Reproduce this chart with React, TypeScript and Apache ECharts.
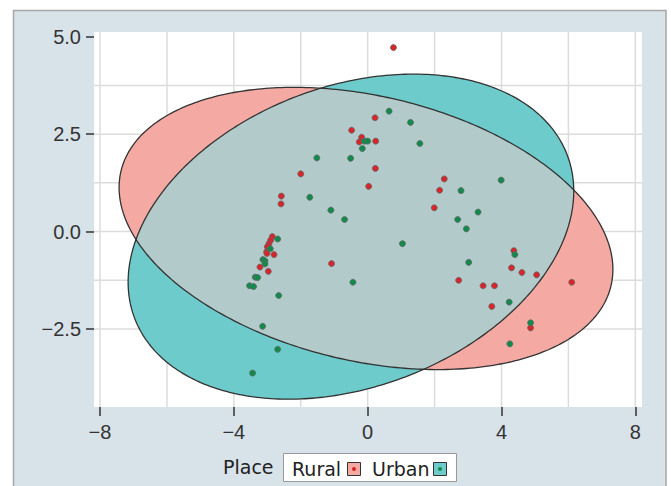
import React, { useEffect, useRef } from "react";
import * as echarts from "echarts";

// ---- data ----
const xTicks = [-8, -4, 0, 4, 8];
const yTicks = [-2.5, 0, 2.5, 5];
const xGridValues = [-8, -6, -4, -2, 0, 2, 4, 6, 8];
const yGridValues = [-2.5, -1.25, 0, 1.25, 2.5, 3.75];
const xRange = [-8.18, 8.2];
const yRange = [-4.5, 5.12];

// ellipse params: [cx, cy, a (x half-extent), b (y half-extent), phase]
const ruralEllipse = [-0.05, 0.08, 7.38, 3.62, 1.865];
const urbanEllipse = [-0.5, -0.13, 6.66, 4.17, 1.287];

const ruralPoints: number[][] = [
  [0.77, 4.72], [0.22, 2.92], [-0.48, 2.6], [-0.18, 2.42], [-0.25, 2.3],
  [0.24, 2.32], [0.23, 1.62], [-2.0, 1.48], [0.03, 1.16], [-2.58, 0.91],
  [-2.59, 0.71], [-2.85, -0.13], [-2.9, -0.22], [-2.95, -0.31], [-3.0, -0.39],
  [-3.02, -0.52], [-3.01, -0.56], [-2.8, -0.59], [-3.22, -0.91], [-2.97, -1.02],
  [-1.08, -0.82], [2.29, 1.35], [2.15, 1.06], [1.99, 0.61], [4.37, -0.49],
  [4.3, -0.93], [4.61, -1.05], [5.05, -1.11], [6.1, -1.3], [2.72, -1.25],
  [3.45, -1.39], [3.79, -1.39], [3.71, -1.92], [4.87, -2.47],
];
const urbanPoints: number[][] = [
  [0.64, 3.09], [1.28, 2.8], [-0.1, 2.32], [0.0, 2.32], [1.56, 2.26],
  [-0.16, 2.13], [-1.52, 1.89], [-0.51, 1.88], [-1.73, 0.88], [-1.1, 0.55],
  [-0.69, 0.31], [-2.69, -0.19], [-2.91, -0.44], [-3.13, -0.72], [-3.07, -0.75],
  [-3.07, -0.83], [-3.36, -1.17], [-3.29, -1.18], [-3.53, -1.39], [-3.41, -1.41],
  [-0.44, -1.3], [-2.66, -1.64], [-3.14, -2.43], [-2.69, -3.02], [-3.44, -3.63],
  [1.04, -0.31], [3.99, 1.32], [2.79, 1.05], [3.3, 0.5], [2.69, 0.31],
  [2.95, 0.07], [4.4, -0.59], [3.02, -0.79], [4.23, -1.81], [4.87, -2.34],
  [4.25, -2.88],
];
const legendTitle = "Place";
const groupNames = ["Rural", "Urban"];

// ---- styles ----
const RURAL_FILL = "#f4a9a3";
const URBAN_FILL = "#6ecbcb";
const OVERLAP_FILL = "#b3caca";
const RURAL_DOT = "#d9252a";
const URBAN_DOT = "#0f8c4c";
const OUTLINE = "#333333";

function ellipsePts(e: number[], n = 360): number[][] {
  const [cx, cy, a, b, ph] = e;
  const out: number[][] = [];
  for (let i = 0; i < n; i++) {
    const t = (i / n) * Math.PI * 2;
    out.push([cx + a * Math.cos(t), cy + b * Math.cos(t - ph)]);
  }
  return out;
}
function inside(e: number[], p: number[]): boolean {
  const [cx, cy, a, b, ph] = e;
  const u = (p[0] - cx) / a;
  const v = (p[1] - cy) / b;
  const s = (v - u * Math.cos(ph)) / Math.sin(ph);
  return u * u + s * s <= 1;
}
function intersection(e1: number[], e2: number[]): number[][] {
  const pts = [
    ...ellipsePts(e1, 720).filter((p) => inside(e2, p)),
    ...ellipsePts(e2, 720).filter((p) => inside(e1, p)),
  ];
  let mx = 0, my = 0;
  pts.forEach((p) => { mx += p[0]; my += p[1]; });
  mx /= pts.length; my /= pts.length;
  return pts.sort((p, q) => Math.atan2(p[1] - my, p[0] - mx) - Math.atan2(q[1] - my, q[0] - mx));
}

const fmt = (v: number, d: number) => (v < 0 ? "\u2212" : "") + Math.abs(v).toFixed(d);

export default function App() {
  const ref = useRef<HTMLDivElement>(null);
  useEffect(() => {
    if (!ref.current) return;
    const chart = echarts.init(ref.current, undefined, { renderer: "svg" });
    const tickFont = { fontSize: 20, fontFamily: "Liberation Sans", color: "#333" };
    const legFont = { fontSize: 19, fontFamily: "DejaVu Sans", fill: "#222" };
    const ruralPoly = ellipsePts(ruralEllipse);
    const urbanPoly = ellipsePts(urbanEllipse);
    const overlapPoly = intersection(ruralEllipse, urbanEllipse);

    chart.setOption({
      animation: false,
      backgroundColor: "#ffffff",
      grid: {
        left: 94, top: 32, width: 548, height: 375,
        show: true, backgroundColor: "#ffffff", borderWidth: 0, containLabel: false,
      },
      xAxis: {
        type: "value", min: xRange[0], max: xRange[1],
        axisLine: { show: false, onZero: false },
        axisTick: { show: true, length: 9, customValues: xTicks, lineStyle: { color: "#333", width: 1.5 } },
        axisLabel: { ...tickFont, margin: 15, customValues: xTicks, formatter: (v: number) => fmt(v, 0) },
        splitLine: { show: false },
      },
      yAxis: {
        type: "value", min: yRange[0], max: yRange[1],
        axisLine: { show: false, onZero: false },
        axisTick: { show: true, length: 8, customValues: yTicks, lineStyle: { color: "#333", width: 1.5 } },
        axisLabel: { ...tickFont, margin: 13, customValues: yTicks, formatter: (v: number) => fmt(v, 1) },
        splitLine: { show: false },
      },
      graphic: [
        {
          type: "rect", z: -10, silent: true,
          shape: { x: 13.5, y: 10.5, width: 652.5, height: 490 },
          style: { fill: "#d8e2e9", stroke: "#a6a6a6", lineWidth: 1.5 },
        },
        {
          type: "text", x: 223, y: 467, z: 10,
          style: { text: legendTitle, ...legFont, align: "left", verticalAlign: "middle" },
        },
        {
          type: "rect", z: 10,
          shape: { x: 283.5, y: 453.5, width: 173, height: 28 },
          style: { fill: "#ffffff", stroke: "#9a9a9a", lineWidth: 1 },
        },
        {
          type: "text", x: 292, y: 469, z: 11,
          style: { text: groupNames[0], ...legFont, align: "left", verticalAlign: "middle" },
        },
        {
          type: "rect", z: 11, shape: { x: 347.5, y: 462.5, width: 13, height: 13 },
          style: { fill: RURAL_FILL, stroke: OUTLINE, lineWidth: 1 },
        },
        { type: "circle", z: 12, shape: { cx: 354, cy: 469, r: 2 }, style: { fill: RURAL_DOT } },
        {
          type: "text", x: 372, y: 469, z: 11,
          style: { text: groupNames[1], ...legFont, align: "left", verticalAlign: "middle" },
        },
        {
          type: "rect", z: 11, shape: { x: 433.5, y: 462.5, width: 13, height: 13 },
          style: { fill: URBAN_FILL, stroke: OUTLINE, lineWidth: 1 },
        },
        { type: "circle", z: 12, shape: { cx: 440, cy: 469, r: 2 }, style: { fill: URBAN_DOT } },
      ],
      series: [
        {
          type: "custom",
          z: 1,
          silent: true,
          data: [[0, 0]],
          renderItem: (_params: any, api: any) => {
            const toPx = (pts: number[][]) => pts.map((p) => api.coord(p));
            const children: any[] = [];
            xGridValues.forEach((x) => {
              const a = api.coord([x, yRange[0]]);
              const b = api.coord([x, yRange[1]]);
              children.push({ type: "line", shape: { x1: a[0], y1: a[1], x2: b[0], y2: b[1] }, style: { stroke: "#dcdcdc", lineWidth: 1.5 } });
            });
            yGridValues.forEach((y) => {
              const a = api.coord([xRange[0], y]);
              const b = api.coord([xRange[1], y]);
              children.push({ type: "line", shape: { x1: a[0], y1: a[1], x2: b[0], y2: b[1] }, style: { stroke: "#dcdcdc", lineWidth: 1.5 } });
            });
            children.push({ type: "polygon", shape: { points: toPx(ruralPoly) }, style: { fill: RURAL_FILL } });
            children.push({ type: "polygon", shape: { points: toPx(urbanPoly) }, style: { fill: URBAN_FILL } });
            children.push({ type: "polygon", shape: { points: toPx(overlapPoly) }, style: { fill: OVERLAP_FILL } });
            children.push({ type: "polygon", shape: { points: toPx(ruralPoly) }, style: { fill: "none", stroke: OUTLINE, lineWidth: 1.3 } });
            children.push({ type: "polygon", shape: { points: toPx(urbanPoly) }, style: { fill: "none", stroke: OUTLINE, lineWidth: 1.3 } });
            return { type: "group", children };
          },
        },
        {
          name: groupNames[0], type: "scatter", z: 3, data: ruralPoints, symbolSize: 6,
          itemStyle: { color: RURAL_DOT, borderColor: "#666", borderWidth: 0.8, opacity: 1 },
        },
        {
          name: groupNames[1], type: "scatter", z: 3, data: urbanPoints, symbolSize: 6,
          itemStyle: { color: URBAN_DOT, borderColor: "#666", borderWidth: 0.8, opacity: 1 },
        },
      ],
    });
    return () => chart.dispose();
  }, []);
  return (
    <div
      ref={ref}
      style={{ position: "fixed", left: 0, top: 0, width: 671, height: 486 }}
    />
  );
}
